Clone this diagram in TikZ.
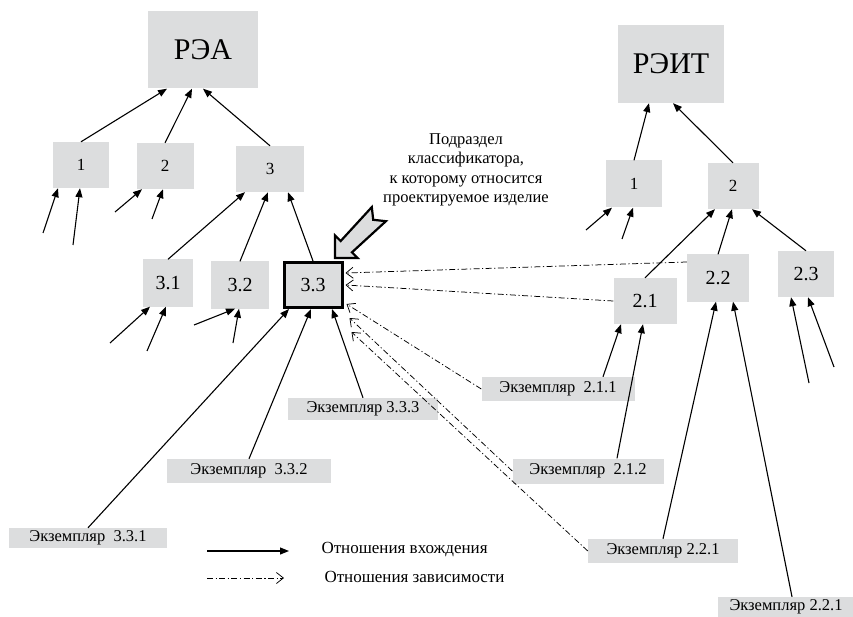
\documentclass[tikz,border=0pt]{standalone}
\usepackage{fontspec}
\setmainfont{LiberationSerif}[Extension=.ttf, UprightFont=*-Regular, BoldFont=*-Bold]
\usetikzlibrary{arrows.meta}
\definecolor{boxGray}{HTML}{DCDDDE}

\begin{document}
\begin{tikzpicture}[
    x=1pt, y=-1pt,
    blk/.style={rectangle, fill=boxGray, inner sep=0pt},
    root/.style={blk, font=\fontsize{30}{34}\selectfont},
    lvl/.style={blk, font=\fontsize{17}{20}\selectfont},
    sub/.style={blk, font=\fontsize{20}{24}\selectfont},
    inst/.style={blk, font=\fontsize{16.5}{19}\selectfont},
    inc/.style={-{Triangle[length=9pt,width=7pt]}, line width=1.1pt},
    dep/.style={-{Straight Barb[length=7pt,width=11pt]}, line width=0.75pt,
                dash pattern=on 6pt off 2.5pt on 1.2pt off 2.5pt},
  ]
    \useasboundingbox (0,0) rectangle (853,617);

    % left tree
    \node[root, minimum width=110pt, minimum height=77pt] (rea) at (203,50) {РЭА};
    \node[lvl, minimum width=56pt, minimum height=46pt] (a1) at (81,165) {1};
    \node[lvl, minimum width=57pt, minimum height=46pt] (a2) at (165,166) {2};
    \node[lvl, minimum width=68pt, minimum height=46pt] (a3) at (270,169) {3};
    \node[sub, minimum width=50pt, minimum height=47pt] (a31) at (168,283) {3.1};
    \node[sub, minimum width=58pt, minimum height=47pt] (a32) at (240,285) {3.2};
    \node[sub, draw, line width=3pt, minimum width=58pt, minimum height=45pt] (a33) at (313,285) {3.3};
    \node[inst, minimum width=158pt, minimum height=20pt] (e331) at (88,538) {Экземпляр\ \ 3.3.1};
    \node[inst, minimum width=164pt, minimum height=24pt] (e332) at (249,471) {Экземпляр\ \ 3.3.2};
    \node[inst, minimum width=150pt, minimum height=22pt] (e333) at (363,409) {Экземпляр 3.3.3};

    % right tree
    \node[root, minimum width=106pt, minimum height=78pt] (reit) at (671,64) {РЭИТ};
    \node[lvl, minimum width=56pt, minimum height=47pt] (b1) at (634,184) {1};
    \node[lvl, minimum width=51pt, minimum height=46pt] (b2) at (733,186) {2};
    \node[sub, minimum width=63pt, minimum height=46pt] (b21) at (645,301) {2.1};
    \node[sub, minimum width=62pt, minimum height=47pt] (b22) at (718,278) {2.2};
    \node[sub, minimum width=56pt, minimum height=46pt] (b23) at (806,274) {2.3};
    \node[inst, minimum width=153pt, minimum height=24pt] (e211) at (558,389) {Экземпляр\ \ 2.1.1};
    \node[inst, minimum width=151pt, minimum height=25pt] (e212) at (588,471) {Экземпляр\ \ 2.1.2};
    \node[inst, minimum width=150pt, minimum height=24pt] (e221) at (663,551) {Экземпляр 2.2.1};
    \node[inst, minimum width=137pt, minimum height=20pt] (e221b) at (786,607) {Экземпляр 2.2.1};

    % callout
    \node[align=center, font=\fontsize{16.5}{19.5}\selectfont] (note) at (466,170)
      {Подраздел\\классификатора,\\к которому относится\\проектируемое изделие};
    \draw[line width=2.2pt, fill=boxGray, line join=miter]
      (335,258) -- (335,235.4) -- (340.7,241) -- (371.8,207.1) -- (373.2,219.8)
      -- (385.9,221.2) -- (352,252.3) -- (357.6,258) -- cycle;

    % free ends
    \coordinate (p1) at (43,233);
    \coordinate (p2) at (73,245);
    \coordinate (p3) at (115,212);
    \coordinate (p4) at (152,219);
    \coordinate (p5) at (110,343);
    \coordinate (p6) at (147,351);
    \coordinate (p7) at (194,325);
    \coordinate (p8) at (233,343);
    \coordinate (p9) at (586,230);
    \coordinate (p10) at (622,239);
    \coordinate (p11) at (809,383);
    \coordinate (p12) at (834,367);

    % inclusion, left
    \draw[inc] (a1.north) -- ([xshift=-36pt]rea.south);
    \draw[inc] (a2.north) -- ([xshift=-11pt]rea.south);
    \draw[inc] (a3.north) -- (rea.south);
    \draw[inc] (p1) -- ([xshift=-23pt]a1.south);
    \draw[inc] (p2) -- ([xshift=-1pt]a1.south);
    \draw[inc] (p3) -- ([xshift=-23pt]a2.south);
    \draw[inc] (p4) -- ([xshift=-2pt]a2.south);
    \draw[inc] (a31.north) -- ([xshift=-25pt]a3.south);
    \draw[inc] (a32.north) -- ([xshift=-2pt]a3.south);
    \draw[inc] (a33.north) -- ([xshift=18pt]a3.south);
    \draw[inc] (p5) -- ([xshift=-18pt]a31.south);
    \draw[inc] (p6) -- ([xshift=-2pt]a31.south);
    \draw[inc] (p7) -- ([xshift=-5pt]a32.south);
    \draw[inc] (p8) -- ([xshift=-1pt]a32.south);
    \draw[inc] (e331.north) -- ([xshift=-24pt]a33.south);
    \draw[inc] (e332.north) -- ([xshift=-2pt]a33.south);
    \draw[inc] (e333.north) -- ([xshift=19pt]a33.south);

    % inclusion, right
    \draw[inc] (b1.north) -- ([xshift=-22pt]reit.south);
    \draw[inc] (b2.north) -- ([xshift=2pt]reit.south);
    \draw[inc] (p9) -- ([xshift=-22pt]b1.south);
    \draw[inc] (p10) -- ([xshift=-1pt]b1.south);
    \draw[inc] (b21.north) -- ([xshift=-18pt]b2.south);
    \draw[inc] (b22.north) -- ([xshift=-1pt]b2.south);
    \draw[inc] (b23.north) -- ([xshift=19pt]b2.south);
    \draw[inc] ([xshift=45pt]e211.north) -- ([xshift=-24pt]b21.south);
    \draw[inc] ([xshift=29pt]e212.north) -- ([xshift=-2pt]b21.south);
    \draw[inc] (e221.north) -- ([xshift=-2pt]b22.south);
    \draw[inc] ([xshift=6pt]e221b.north) -- ([xshift=15pt]b22.south);
    \draw[inc] (p11) -- ([xshift=-15pt]b23.south);
    \draw[inc] (p12) -- ([xshift=2pt]b23.south);

    % dependency
    \draw[dep] ([yshift=16pt]b22.west) -- ([xshift=2pt,yshift=12pt]a33.east);
    \draw[dep] (b21.west) -- ([xshift=2pt]a33.east);
    \draw[dep] (e211.west) -- ([xshift=3pt,yshift=-19pt]a33.east);
    \draw[dep] (e212.west) -- ([xshift=6pt,yshift=-9pt]a33.south east);
    \draw[dep] (e221.west) -- ([xshift=8pt,yshift=-23pt]a33.south east);

    % legend
    \coordinate (l1a) at (207,551);
    \coordinate (l1b) at (289,551);
    \coordinate (l2a) at (207,578);
    \coordinate (l2b) at (284,578);
    \draw[inc] (l1a) -- (l1b);
    \draw[dep] (l2a) -- (l2b);
    \node[anchor=west, font=\fontsize{17}{20}\selectfont] (l1t) at (318,550) {Отношения вхождения};
    \node[anchor=west, font=\fontsize{17}{20}\selectfont] (l2t) at (321,577) {Отношения зависимости};
\end{tikzpicture}
\end{document}
